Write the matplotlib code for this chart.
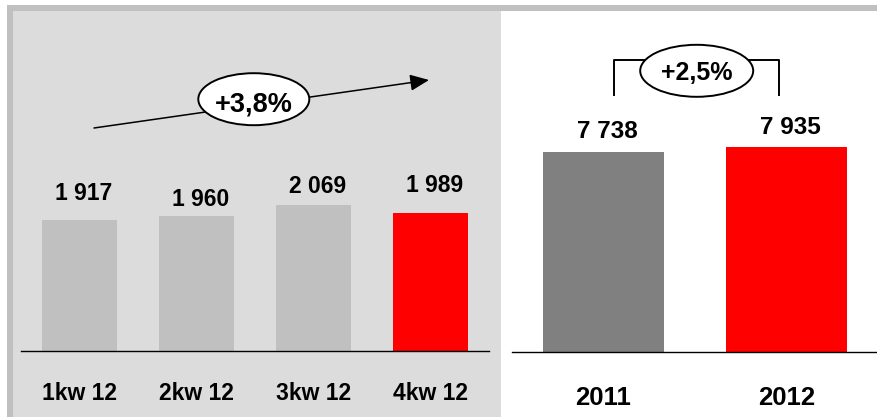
import matplotlib
matplotlib.use("Agg")
import matplotlib.pyplot as plt
import matplotlib.patches as mpatches
import matplotlib.transforms as mtransforms
from matplotlib.lines import Line2D

# quarterly sales (left panel) and yearly totals (right panel)
quarters = ["1kw 12", "2kw 12", "3kw 12", "4kw 12"]
quarter_values = [1917, 1960, 2069, 1989]
quarter_colors = ["#c0c0c0", "#c0c0c0", "#c0c0c0", "#ff0000"]
years = ["2011", "2012"]
year_values = [7738, 7935]
year_colors = ["#808080", "#ff0000"]
quarter_growth = "+3,8%"
year_growth = "+2,5%"

# label lift above each bar top, in pixels
quarter_lift = [20, 10, 12, 21]
year_lift = [14, 13]

W, H = 878, 417
plt.rcParams["font.family"] = ["Liberation Sans", "DejaVu Sans"]
plt.rcParams["font.weight"] = "bold"

fig = plt.figure(figsize=(W / 100, H / 100), dpi=100)
fig.patch.set_facecolor("white")

# pixel coordinates measured from the top-left corner
pix = mtransforms.Affine2D().scale(1 / W, -1 / H).translate(0, 1) + fig.transFigure


def rect(x0, y0, x1, y1, color):
    fig.add_artist(mpatches.Rectangle((x0, y1), x1 - x0, y0 - y1, transform=pix,
                                      facecolor=color, edgecolor="none", zorder=0))


def fmt(v):
    return f"{v:,}".replace(",", " ")


# frame and shaded background of the quarterly panel
rect(13, 11, 501, H, "#dcdcdc")
rect(7, 5, 13, H, "#c0c0c0")
rect(7, 5, W, 11, "#c0c0c0")


def setup(ax):
    ax.set_facecolor("none")
    for s in ["top", "left", "right"]:
        ax.spines[s].set_visible(False)
    ax.spines["bottom"].set_linewidth(1.0)
    ax.set_xticks([])
    ax.set_yticks([])


# quarterly bars
ax1 = fig.add_axes([21 / W, 66 / H, 468 / W, 340 / H])
setup(ax1)
ax1.set_xlim(-0.5, 3.5)
ax1.set_ylim(590, 590 + 340 * 10.13)
x1 = list(range(len(quarters)))
ax1.bar(x1, quarter_values, width=0.635, color=quarter_colors, zorder=2)
for i, v in enumerate(quarter_values):
    ax1.annotate(fmt(v), xy=(i, v), xytext=(4, quarter_lift[i]), textcoords="offset pixels",
                 ha="center", va="baseline", fontsize=16.5, fontweight="bold")
    ax1.annotate(quarters[i], xy=(i, 590), xytext=(0, -48.5), textcoords="offset pixels",
                 ha="center", va="baseline", fontsize=16.5, fontweight="bold",
                 annotation_clip=False)

# yearly bars
ax2 = fig.add_axes([512 / W, 64.7 / H, 366 / W, 341 / H])
setup(ax2)
ax2.set_xlim(-0.5, 1.5)
ax2.set_ylim(0, 341 * 38.65)
x2 = list(range(len(years)))
ax2.bar(x2, year_values, width=0.665, color=year_colors, zorder=2)
for i, v in enumerate(year_values):
    ax2.annotate(fmt(v), xy=(i, v), xytext=(4, year_lift[i]), textcoords="offset pixels",
                 ha="center", va="baseline", fontsize=17.5, fontweight="bold")
    ax2.annotate(years[i], xy=(i, 0), xytext=(0, -52.5), textcoords="offset pixels",
                 ha="center", va="baseline", fontsize=18.5, fontweight="bold",
                 annotation_clip=False)

# trend arrow with growth badge
fig.add_artist(mpatches.FancyArrowPatch((94, 128), (429, 80), transform=pix,
                                        arrowstyle="-|>,head_length=11.5,head_width=5",
                                        mutation_scale=1, color="black", lw=1.1,
                                        shrinkA=0, shrinkB=0, zorder=3))
fig.add_artist(mpatches.Ellipse((253.8, 99.2), 111, 52, transform=pix,
                                facecolor="white", edgecolor="black", lw=1.4, zorder=4))
fig.text(253.8 / W, 1 - 111.5 / H, quarter_growth, ha="center", va="baseline",
         fontsize=19.5, fontweight="bold", zorder=5)

# bracket with year-over-year growth badge
fig.add_artist(Line2D([614, 614, 779.3, 779.3], [95, 60, 60, 95], transform=pix,
                      color="black", lw=1.4, zorder=3))
fig.add_artist(mpatches.Ellipse((696.7, 70.8), 113, 52, transform=pix,
                                facecolor="white", edgecolor="black", lw=1.4, zorder=4))
fig.text(696.7 / W, 1 - 80.5 / H, year_growth, ha="center", va="baseline",
         fontsize=18, fontweight="bold", zorder=5)

fig.savefig("out.png", dpi=100)
